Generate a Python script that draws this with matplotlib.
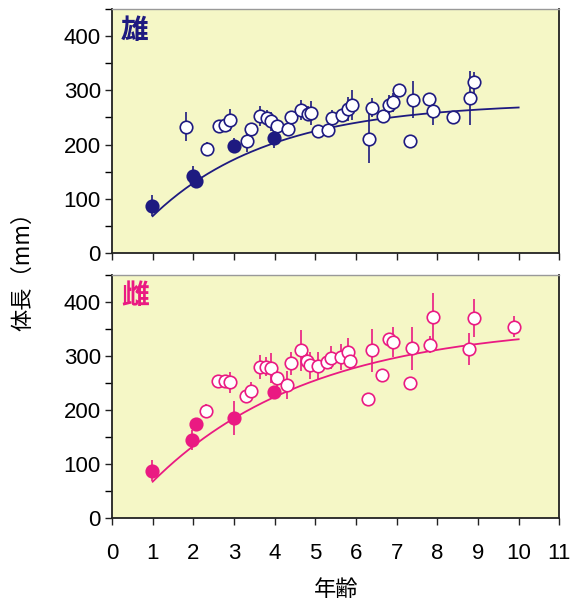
import numpy as np
import matplotlib
matplotlib.use("Agg")
import matplotlib.pyplot as plt

plt.rcParams['font.family'] = ['Liberation Sans', 'Noto Sans CJK JP', 'DejaVu Sans']

# ---- male (雄) ----
m_fill_age = [0.98, 1.98, 2.07, 3.00, 3.99]
m_fill_len = [87, 142, 133, 198, 212]
m_fill_err = [20, 18, 10, 14, 18]

m_open_age = [1.82, 2.33, 2.64, 2.79, 2.90, 3.31, 3.42, 3.64, 3.80, 3.91,
              4.05, 4.32, 4.40, 4.66, 4.81, 4.89, 5.07, 5.30, 5.41, 5.66,
              5.80, 5.89, 6.31, 6.40, 6.66, 6.82, 6.92, 7.07, 7.33, 7.39,
              7.80, 7.90, 8.39, 8.80, 8.90]
m_open_len = [233, 192, 235, 237, 245, 206, 228, 253, 249, 243,
              234, 229, 250, 264, 257, 259, 225, 226, 249, 254,
              266, 273, 211, 268, 253, 274, 278, 300, 207, 283,
              284, 262, 251, 286, 315]
m_open_err = [27, 12, 0, 0, 20, 20, 8, 18, 14, 18,
              10, 13, 0, 18, 14, 22, 0, 0, 14, 10,
              22, 27, 45, 18, 0, 18, 18, 0, 0, 34,
              0, 26, 0, 50, 20]

# ---- female (雌) ----
f_fill_age = [0.98, 1.97, 2.06, 2.99, 3.98]
f_fill_len = [88, 145, 174, 185, 233]
f_fill_err = [19, 18, 8, 31, 12]

f_open_age = [2.32, 2.61, 2.78, 2.89, 3.30, 3.41, 3.63, 3.79, 3.90, 4.05,
              4.31, 4.39, 4.65, 4.80, 4.87, 5.06, 5.29, 5.39, 5.64, 5.81,
              5.86, 6.30, 6.40, 6.64, 6.81, 6.90, 7.32, 7.38, 7.81, 7.89,
              8.79, 8.90, 9.88]
f_open_len = [199, 253, 254, 251, 225, 236, 280, 280, 277, 260,
              246, 286, 310, 291, 283, 282, 288, 297, 298, 307,
              291, 221, 310, 264, 331, 326, 249, 314, 321, 371,
              313, 370, 354]
f_open_err = [12, 0, 8, 20, 6, 16, 22, 18, 28, 18,
              26, 22, 38, 14, 25, 25, 0, 22, 24, 26,
              18, 8, 40, 0, 8, 28, 0, 40, 16, 46,
              30, 35, 20]

# growth curve parameters (von Bertalanffy)
m_curve = dict(linf=278, k=0.344, t0=0.19)
f_curve = dict(linf=360, k=0.2556, t0=0.186)

navy = '#1e1a80'
pink = '#ea1a82'
bg = '#f5f7c6'

fig = plt.figure(figsize=(5.74, 6.05), dpi=100)
ax_top = fig.add_axes([0.1951, 0.5823, 0.7793, 0.4023])
ax_bot = fig.add_axes([0.1951, 0.1433, 0.7793, 0.4027])


def draw_panel(ax, col, label, fill_age, fill_len, fill_err,
               open_age, open_len, open_err, curve):
    ax.set_facecolor(bg)
    t = np.linspace(1, 10, 200)
    ax.plot(t, curve['linf'] * (1 - np.exp(-curve['k'] * (t - curve['t0']))),
            color=col, lw=1.3, zorder=2)
    ax.errorbar(open_age, open_len, yerr=open_err, fmt='none', ecolor=col,
                elinewidth=1.2, capsize=0, zorder=1)
    ax.errorbar(fill_age, fill_len, yerr=fill_err, fmt='none', ecolor=col,
                elinewidth=1.2, capsize=0, zorder=1)
    ax.plot(open_age, open_len, 'o', ms=9, mfc='white', mec=col, mew=1.2,
            zorder=3, linestyle='none')
    ax.plot(fill_age, fill_len, 'o', ms=9, mfc=col, mec=col, mew=1.2,
            zorder=4, linestyle='none')
    ax.text(0.02, 0.97, label, transform=ax.transAxes, color=col,
            fontsize=20, fontweight='bold', va='top', ha='left',
            family=['Noto Sans CJK JP'])
    ax.set_xlim(0, 11)
    ax.set_ylim(0, 450)
    ax.set_xticks(range(0, 12))
    ax.set_yticks(range(0, 401, 100))
    ax.set_yticks(range(0, 451, 50), minor=True)
    ax.tick_params(axis='both', direction='out', length=5, width=1,
                   labelsize=16, color='#222222')
    ax.tick_params(axis='y', which='minor', direction='out', length=5, width=1)
    ax.tick_params(axis='both', pad=3)
    for s in ['left', 'bottom', 'right']:
        ax.spines[s].set_color('#222222')
        ax.spines[s].set_linewidth(1.3)
    ax.spines['top'].set_color('#999999')
    ax.spines['top'].set_linewidth(1.0)


draw_panel(ax_top, navy, '雄', m_fill_age, m_fill_len, m_fill_err,
           m_open_age, m_open_len, m_open_err, m_curve)
draw_panel(ax_bot, pink, '雌', f_fill_age, f_fill_len, f_fill_err,
           f_open_age, f_open_len, f_open_err, f_curve)

ax_top.tick_params(axis='x', labelbottom=False)
ax_bot.tick_params(axis='x', pad=13)
ax_bot.set_xlabel('年齢', fontsize=16, family=['Noto Sans CJK JP'], labelpad=10)

fig.text(0.04, 0.56, '体長（mm）', rotation=90, fontsize=16, va='center',
         ha='center', family=['Noto Sans CJK JP'])

fig.savefig('out.png', dpi=100)
